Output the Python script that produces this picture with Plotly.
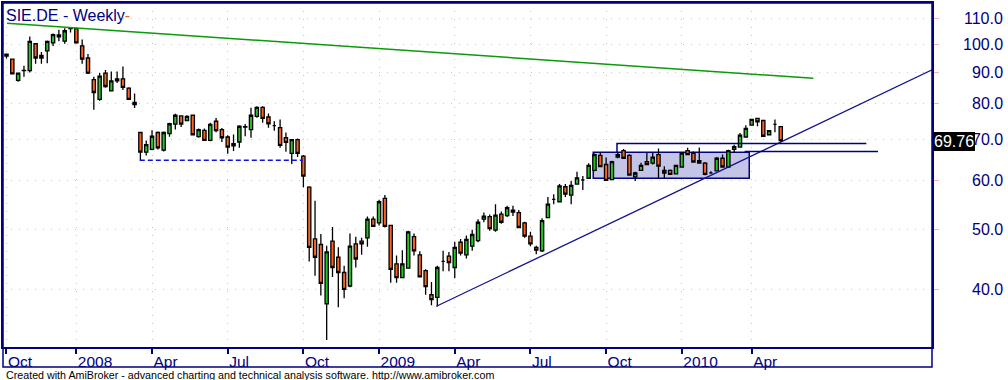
import math
import pandas as pd
import plotly.graph_objects as go

# ---- data: weekly bars of SIE.DE (AmiBroker skips the 2010-01-01 week) ----
dates = [d for d in pd.date_range("2007-10-12", "2010-05-07", freq="W-FRI")
         if d != pd.Timestamp("2010-01-01")]

open_ = [96.4, 94.6, 87.4, 90.6, 90.6, 100.2, 95.0, 97.6, 100.5, 103.6,
         101.2, 106.0, 106.0, 99.4, 95.0, 87.6, 81.4, 89.8, 84.0, 87.9,
         87.9, 84.9, 80.5, 71.9, 66.8, 67.5, 71.9, 67.3, 71.6, 74.2,
         76.5, 75.2, 76.7, 70.8, 72.5, 69.8, 75.0, 72.7, 70.7, 69.0,
         69.4, 73.4, 72.7, 76.4, 79.0, 76.2, 73.8, 73.2, 70.5, 66.5,
         70.0, 65.8, 58.6, 48.3, 47.3, 37.9, 47.9, 45.1, 42.6, 40.5,
         47.4, 47.9, 48.5, 52.0, 51.3, 56.2, 50.8, 44.0, 41.8, 43.3,
         48.7, 45.5, 42.9, 39.2, 38.8, 44.4, 45.3, 43.4, 47.7, 45.5,
         47.0, 48.0, 52.0, 52.5, 49.9, 53.0, 52.7, 53.4, 53.3, 51.3,
         48.8, 46.8, 46.2, 52.3, 56.0, 55.5, 58.7, 56.9, 59.3, 60.2,
         60.6, 62.4, 66.0, 63.8, 60.3, 65.6, 67.2, 66.0, 60.9, 62.4,
         64.5, 64.1, 66.2, 62.4, 62.4, 61.6, 63.2, 67.2, 66.5, 64.1,
         64.1, 61.8, 62.3, 65.3, 63.2, 67.5, 68.1, 70.7, 73.9, 75.8,
         75.2, 71.3, 74.1, 73.5]
high = [96.6, 94.8, 89.9, 92.3, 103.0, 100.5, 97.2, 101.4, 104.1, 105.6,
        106.2, 106.6, 106.4, 101.8, 96.4, 88.6, 89.8, 90.8, 90.3, 90.3,
        92.0, 85.2, 83.2, 72.0, 69.8, 72.5, 72.2, 72.2, 74.6, 77.1,
        76.7, 76.7, 76.8, 73.0, 73.0, 74.6, 75.9, 73.1, 71.2, 71.4,
        73.9, 74.2, 78.9, 79.3, 79.3, 77.2, 75.0, 75.5, 71.9, 70.2,
        70.3, 66.1, 58.8, 55.7, 49.2, 47.1, 50.5, 46.8, 43.7, 49.3,
        48.7, 48.5, 52.5, 52.5, 55.9, 56.9, 50.9, 45.4, 46.3, 49.8,
        49.3, 46.1, 43.1, 41.1, 43.7, 46.2, 46.0, 47.8, 48.3, 48.9,
        50.0, 52.0, 53.3, 52.9, 55.0, 53.5, 54.7, 54.7, 53.8, 51.5,
        49.6, 47.1, 52.2, 56.5, 57.1, 59.3, 59.3, 60.0, 62.1, 61.1,
        64.1, 66.5, 66.8, 65.5, 64.7, 66.8, 67.6, 66.3, 62.1, 64.2,
        66.6, 66.6, 67.7, 63.4, 62.6, 63.7, 66.8, 67.9, 67.0, 68.0,
        64.4, 62.2, 65.6, 66.2, 67.4, 68.7, 71.8, 73.9, 75.7, 76.0,
        75.3, 72.6, 75.5, 73.6]
low = [94.8, 89.3, 86.9, 88.6, 90.0, 93.0, 93.0, 93.2, 99.4, 101.1,
       100.2, 104.5, 100.3, 93.0, 89.5, 78.3, 81.0, 85.0, 83.8, 86.5,
       84.3, 81.2, 78.8, 64.7, 66.0, 67.3, 67.5, 67.0, 70.8, 72.7,
       73.4, 75.0, 71.3, 70.5, 69.8, 69.6, 72.0, 69.4, 66.4, 67.1,
       67.9, 70.9, 70.5, 76.0, 74.6, 73.2, 72.4, 67.9, 66.9, 63.9,
       65.6, 58.6, 44.4, 42.1, 39.1, 33.1, 41.9, 37.4, 38.7, 40.3,
       43.4, 45.5, 46.9, 50.6, 50.8, 50.4, 41.0, 41.0, 41.7, 43.2,
       45.4, 41.9, 39.2, 37.7, 37.5, 42.8, 42.8, 41.7, 45.4, 44.9,
       46.2, 47.7, 51.4, 49.8, 49.6, 51.1, 52.4, 52.6, 50.4, 48.5,
       47.0, 45.6, 46.0, 52.2, 55.0, 55.4, 56.5, 55.0, 59.2, 58.0,
       60.4, 62.2, 63.2, 60.0, 60.2, 65.3, 65.3, 61.3, 60.0, 62.3,
       63.8, 63.8, 60.6, 60.6, 61.4, 61.5, 63.1, 66.1, 64.3, 64.0,
       61.3, 61.6, 62.2, 63.0, 63.1, 66.6, 68.0, 70.6, 73.8, 73.6,
       70.9, 71.1, 72.0, 69.3]
close = [95.7, 89.5, 89.8, 90.7, 101.1, 95.0, 95.9, 101.1, 103.7, 102.8,
         105.2, 106.1, 100.5, 94.6, 89.8, 83.5, 88.8, 85.4, 87.2, 87.2,
         85.1, 81.4, 79.8, 66.8, 68.7, 70.9, 67.9, 71.9, 74.3, 76.7,
         74.2, 76.4, 71.3, 72.7, 69.8, 74.1, 72.4, 70.5, 68.1, 68.4,
         73.6, 73.5, 76.7, 79.0, 75.8, 74.3, 73.8, 68.5, 69.3, 70.0,
         66.5, 61.1, 46.8, 45.1, 40.9, 46.0, 43.4, 42.6, 40.0, 47.0,
         44.8, 47.4, 52.0, 50.6, 55.5, 50.6, 43.1, 41.8, 44.0, 49.6,
         46.2, 41.9, 40.4, 38.5, 43.4, 44.4, 44.2, 46.8, 45.8, 48.2,
         49.1, 51.4, 52.6, 50.2, 52.8, 51.4, 54.3, 53.8, 50.4, 48.8,
         47.4, 46.3, 51.7, 55.0, 56.0, 58.9, 57.1, 59.0, 60.7, 60.2,
         63.6, 66.2, 63.3, 60.1, 64.5, 66.2, 65.3, 61.3, 61.8, 63.6,
         63.8, 65.6, 63.4, 61.8, 61.5, 63.6, 66.6, 66.2, 64.4, 64.7,
         61.5, 61.8, 65.3, 63.2, 67.2, 68.2, 71.2, 73.0, 75.5, 74.8,
         70.9, 72.4, 74.1, 69.76]

# drawn studies (bar index, price)
green_line_bar = [0.09, 138.6]
green_line_price = [108.2, 88.05]
trend_bar = [73.85, 159.0]
trend_price = [37.55, 90.9]
support_bar = [22.9, 50.9]
support_price = [64.8, 64.8]
box_bar = [100.9, 127.7]
box_price = [60.4, 66.7]
upper_bar = [104.87, 104.87, 147.7]
upper_price = [66.7, 69.0, 69.0]
lower_bar = [126.8, 149.7]
lower_price = [67.0, 67.0]

y_ticks = [40, 50, 60, 70, 80, 90, 100, 110]
last_price = close[-1]

NAVY = "#000080"
GRID = "#f0b4b4"
FONT = "Liberation Sans, Arial, sans-serif"

idx = list(range(len(dates)))
tickvals, ticktext = [], []
for i, d in enumerate(dates):
    if i == 0 or (d.month != dates[i - 1].month and d.month in (1, 4, 7, 10)):
        tickvals.append(i)
        ticktext.append(str(d.year) if (d.month == 1 and i > 0) else d.strftime("%b"))

fig = go.Figure()

# consolidation box (bar layer sits below the candlestick layer)
fig.add_trace(go.Bar(
    x=[(box_bar[0] + box_bar[1]) / 2], y=[box_price[1] - box_price[0]],
    base=[box_price[0]], width=[box_bar[1] - box_bar[0]],
    marker=dict(color="#c3c4e6", line=dict(color=NAVY, width=1.5)),
    hoverinfo="skip", showlegend=False))

fig.add_trace(go.Candlestick(
    x=idx, open=open_, high=high, low=low, close=close,
    increasing=dict(fillcolor="#26c226", line=dict(color="black", width=1.3)),
    decreasing=dict(fillcolor="#fa6420", line=dict(color="black", width=1.3)),
    whiskerwidth=0, showlegend=False))

fig.add_trace(go.Scatter(x=green_line_bar, y=green_line_price, mode="lines",
                         line=dict(color="#0a9a0a", width=1.5), showlegend=False))
fig.add_trace(go.Scatter(x=trend_bar, y=trend_price, mode="lines",
                         line=dict(color="#12128c", width=1.3), showlegend=False))
fig.add_trace(go.Scatter(x=support_bar, y=support_price, mode="lines",
                         line=dict(color="#1010e0", width=1.5, dash="5px,3px"),
                         showlegend=False))
fig.add_trace(go.Scatter(x=upper_bar, y=upper_price, mode="lines",
                         line=dict(color=NAVY, width=1.5), showlegend=False))
fig.add_trace(go.Scatter(x=lower_bar, y=lower_price, mode="lines",
                         line=dict(color=NAVY, width=1.5), showlegend=False))

ymin = math.log10(32.24)
ymax = math.log10(116.7)
plot_h = 346.0

annotations = []
for v in y_ticks:
    annotations.append(dict(x=1, xref="paper", xanchor="right", xshift=73,
                            y=math.log10(v), yref="y", yanchor="middle",
                            text=f"{v:.1f}", showarrow=False,
                            font=dict(family=FONT, size=16, color=NAVY)))
annotations.append(dict(x=1, xref="paper", xanchor="left", xshift=1,
                        y=math.log10(last_price), yref="y", yanchor="middle",
                        yshift=-1, text=f"{last_price:.2f}", showarrow=False,
                        bgcolor="black", borderpad=1, borderwidth=0,
                        font=dict(family=FONT, size=16, color="white")))
annotations.append(dict(x=0, xref="paper", xanchor="left", xshift=1,
                        y=1, yref="paper", yanchor="top", yshift=-2,
                        text="SIE.DE - Weekly<span style='color:#e8641e'>-</span>",
                        showarrow=False,
                        font=dict(family=FONT, size=16, color=NAVY)))
annotations.append(dict(x=0, xref="paper", xanchor="left", xshift=3,
                        y=0, yref="paper", yanchor="middle", yshift=-28,
                        borderpad=0, borderwidth=0,
                        text="Created with AmiBroker - advanced charting and technical analysis software. http://www.amibroker.com",
                        showarrow=False,
                        font=dict(family=FONT, size=10.7, color="black")))

fig.update_layout(
    width=1008, height=380,
    margin=dict(l=1, r=76, t=1, b=33),
    paper_bgcolor="white", plot_bgcolor="white",
    showlegend=False, boxgap=0.2, bargap=0,
    annotations=annotations,
    shapes=[dict(type="rect", xref="paper", yref="paper",
                 x0=0, x1=1, y0=-20 / plot_h, y1=1,
                 line=dict(color=NAVY, width=1.5))],
    xaxis=dict(range=[-0.6, 158.98], tickmode="array", tickvals=tickvals,
               ticktext=ticktext, ticks="outside", ticklen=5, tickwidth=1.5,
               tickcolor=NAVY, ticklabelposition="outside right",
               ticklabelstandoff=0,
               tickfont=dict(family=FONT, size=15.5, color=NAVY),
               showgrid=True, gridcolor=GRID, griddash="1px,7px", gridwidth=1,
               showline=True, linecolor=NAVY, linewidth=1.5, mirror=True,
               zeroline=False, rangeslider=dict(visible=False)),
    yaxis=dict(type="log", range=[ymin, ymax], side="right", tickmode="array",
               tickvals=y_ticks, showticklabels=False, ticks="outside",
               ticklen=5, tickcolor=GRID, showgrid=True, gridcolor=GRID,
               griddash="1px,7px", gridwidth=1, showline=True, linecolor=NAVY,
               linewidth=1.5, mirror=True, zeroline=False),
)

fig.write_html("out.html", config={"displayModeBar": False},
               post_script="document.body.style.margin='0';"
                           "document.body.style.overflow='hidden';")
